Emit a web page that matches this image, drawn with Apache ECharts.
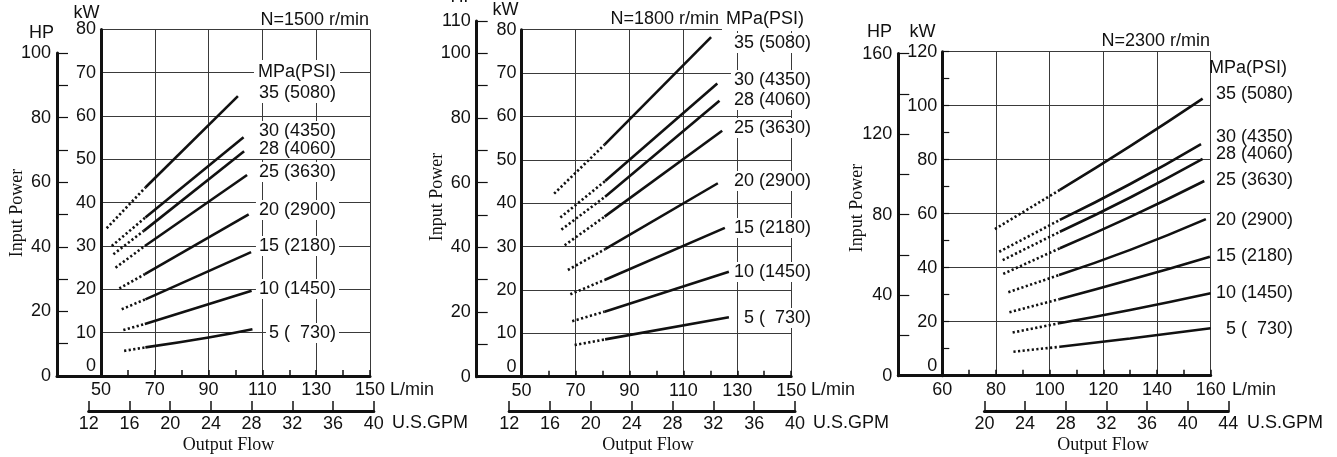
<!DOCTYPE html>
<html><head><meta charset="utf-8">
<script src="https://cdn.jsdelivr.net/npm/echarts@6/dist/echarts.min.js"></script>
<style>html,body{margin:0;padding:0;background:#fff}#c{width:1337px;height:457px}</style>
</head><body><div id="c"></div>
<script>
// ---------------- DATA ----------------
const pressureLabels = ['35 (5080)','30 (4350)','28 (4060)','25 (3630)','20 (2900)','15 (2180)','10 (1450)','5 (  730)'];
const speedTitles = ['N=1500 r/min','N=1800 r/min','N=2300 r/min'];

// [L/min, kW] — dotted (extrapolated) part and solid part, order 35,30,28,25,20,15,10,5 MPa
const n1500Dotted = [
  [[52.1,34.1],[66.5,43.5]], [[54.0,30.0],[66.5,36.6]], [[54.6,28.1],[65.9,33.5]], [[55.4,25.0],[66.3,30.0]],
  [[56.8,20.2],[66.3,23.5]], [[57.7,15.4],[66.5,17.7]], [[58.3,10.6],[66.3,12.0]], [[58.6,5.8],[66.5,6.6]]
];
const n1500Solid = [
  [[66.5,43.5],[100.9,64.6]], [[66.5,36.6],[103.0,55.1]], [[65.9,33.5],[103.2,51.9]], [[66.3,30.0],[104.3,46.4]],
  [[66.3,23.5],[104.9,37.3]], [[66.5,17.7],[105.8,28.6]], [[66.3,12.0],[106.0,19.7]], [[66.5,6.6],[90.0,8.9],[106.3,10.8]]
];
const n1800Dotted = [
  [[62.1,42.2],[80.8,53.5]], [[64.4,36.7],[81.0,45.1]], [[64.8,33.9],[81.0,41.5]], [[66.0,30.3],[80.8,36.9]],
  [[67.2,24.6],[81.0,29.4]], [[68.1,19.0],[80.8,22.3]], [[68.8,12.8],[80.8,15.0]], [[69.7,7.3],[81.0,8.6]]
];
const n1800Solid = [
  [[80.8,53.5],[120.3,78.3]], [[81.0,45.1],[122.6,67.6]], [[81.0,41.5],[123.4,63.6]], [[80.8,36.9],[124.4,56.7]],
  [[81.0,29.4],[122.8,44.6]], [[80.8,22.3],[125.4,34.3]], [[80.8,15.0],[126.9,24.2]], [[81.0,8.6],[126.9,13.7]]
];
const n2300Dotted = [
  [[79.6,54.3],[103.8,68.8]], [[81.2,45.9],[103.8,57.7]], [[82.5,42.8],[103.8,53.3]], [[82.7,37.7],[103.8,47.2]],
  [[84.6,30.9],[103.5,37.3]], [[85.0,23.5],[103.8,28.4]], [[86.2,16.0],[103.5,19.4]], [[86.5,8.9],[103.8,10.7]]
];
const n2300Solid = [
  [[103.8,68.8],[130.0,85.0],[157.0,102.6]],
  [[103.8,57.7],[130.0,71.0],[156.4,85.8]],
  [[103.8,53.3],[130.0,66.0],[157.0,80.3]],
  [[103.8,47.2],[130.0,58.8],[157.6,72.1]],
  [[103.5,37.3],[130.0,46.6],[158.2,58.0]],
  [[103.8,28.4],[130.0,35.5],[159.7,44.1]],
  [[103.5,19.4],[130.0,24.3],[160.0,30.5]],
  [[103.8,10.7],[130.0,13.8],[160.0,17.6]]
];

const flowRanges = [[50,150],[50,150],[60,160]];   // L/min
const gpmRanges  = [[12,40],[12,40],[20,44]];      // U.S.GPM
const kwMaxes    = [80,80,120];
const kwSteps    = [10,10,20];
const hpMaxes    = [100,110,160];
const hpSteps    = [10,10,20];
const hpLabelSteps = [20,20,40];

const KW_PER_HP = 0.7457;
const L_PER_GPM = 3.78541;

// ---------------- LAYOUT (pixels) ----------------
const layout = [
  {left:101, right:370, top:29.4, bottom:376, hpX:57, gpmY:411,
   labRight:339, labYs:[93,131,149,172,210,246,289,333], labBg:true,
   header:[340,72], title:[369,20], hp:[41.5,33], kw:[86.5,13], input:[17,213], output:[228.5,445.5],
   lmin:[390,390], gpmUnit:[392,423]},
  {left:521.5, right:791.2, top:29.7, bottom:376.7, hpX:476.7, gpmY:411,
   labRight:814, labYs:[43,80,100,128,181,228,272,318], labBg:true,
   header:[808,19], title:[719,19], hp:[463,-3], kw:[505.5,10], input:[437,197], output:[648,445],
   lmin:[811,390], gpmUnit:[813,423]},
  {left:942.3, right:1210.7, top:51.7, bottom:375.7, hpX:898.3, gpmY:411,
   labRight:1293, labYs:[94,137,154,180,220,256,293,329], labBg:false,
   header:[1287,68], title:[1210,41.5], hp:[879.5,31.7], kw:[922.5,31.7], input:[857,208], output:[1103,445],
   lmin:[1232,390], gpmUnit:[1247,423]}
];

const SANS = '"Liberation Sans", Arial, sans-serif';
const SERIF = '"Liberation Serif", "Times New Roman", serif';
const INK = '#111';
const GRIDC = '#3a3a3a';
const dottedSets = [n1500Dotted, n1800Dotted, n2300Dotted];
const solidSets = [n1500Solid, n1800Solid, n2300Solid];

const grids = [], xAxes = [], yAxes = [], series = [], graphics = [];

function txt(x, y, text, align, font, extra) {
  const st = Object.assign({text, font: font || ('18px ' + SANS), fill: INK,
    align: align || 'center', textAlign: align || 'center',
    verticalAlign: 'middle', textVerticalAlign: 'middle'}, extra || {});
  return {type:'text', x, y, z:100, silent:true, style: st};
}

for (let p = 0; p < 3; p++) {
  const L = layout[p];
  const [fmin, fmax] = flowRanges[p];
  const pxPerL = (L.right - L.left) / (fmax - fmin);
  const kwScale = (L.bottom - L.top) / kwMaxes[p];
  const hpTop = L.bottom - hpMaxes[p] * KW_PER_HP * kwScale;
  const gx0 = L.left + (gpmRanges[p][0] * L_PER_GPM - fmin) * pxPerL;
  const gx1 = L.left + (gpmRanges[p][1] * L_PER_GPM - fmin) * pxPerL;
  const gi = grids.length;

  grids.push({left:L.left, top:L.top, width:L.right - L.left, height:L.bottom - L.top, outerBoundsMode:'none', containLabel:false});
  grids.push({left:L.hpX, top:hpTop, width:L.left - L.hpX, height:L.bottom - hpTop, outerBoundsMode:'none', containLabel:false});
  grids.push({left:gx0, top:L.gpmY - 10, width:gx1 - gx0, height:10, outerBoundsMode:'none', containLabel:false});

  const labelStyle = {fontSize:18, fontFamily:SANS, color:INK};
  xAxes.push({type:'value', gridIndex:gi, min:fmin, max:fmax, interval:20,
    axisLine:{show:true, onZero:false, lineStyle:{color:INK, width:3}},
    axisTick:{show:true, inside:true, length:6, lineStyle:{color:INK, width:1.5}},
    minorTick:{show:true, splitNumber:2, length:6, lineStyle:{color:INK, width:1.5}},
    axisLabel:Object.assign({margin:5, showMinLabel:true, showMaxLabel:true}, labelStyle),
    splitLine:{show:true, lineStyle:{color:GRIDC, width:1}}});
  const kwStep = kwSteps[p];
  yAxes.push({type:'value', gridIndex:gi, min:0, max:kwMaxes[p], interval:kwStep,
    axisLine:{show:true, onZero:false, lineStyle:{color:INK, width:3}},
    axisTick:{show:p === 2, inside:true, length:7, lineStyle:{color:INK, width:1.2}},
    minorTick:{show:p === 2, splitNumber:2, length:7, lineStyle:{color:INK, width:1.2}},
    axisLabel:Object.assign({margin:5, showMinLabel:true, showMaxLabel:true,
      formatter: v => v === 0 ? '{z|0}' : String(v),
      rich:{z:{fontSize:18, fontFamily:SANS, color:INK, padding:[0,0,20,0]}}}, labelStyle),
    splitLine:{show:true, lineStyle:{color:GRIDC, width:1}}});

  xAxes.push({type:'value', gridIndex:gi + 1, min:0, max:1,
    axisLine:{show:true, onZero:false, lineStyle:{color:INK, width:3}},
    axisTick:{show:false}, axisLabel:{show:false}, splitLine:{show:false}});
  const hpMax = hpMaxes[p], hpLab = hpLabelSteps[p];
  yAxes.push({type:'value', gridIndex:gi + 1, min:0, max:hpMax, interval:hpSteps[p],
    axisLine:{show:true, onZero:false, lineStyle:{color:INK, width:3}},
    axisTick:{show:true, inside:true, length:11, lineStyle:{color:INK, width:1.2}},
    axisLabel:Object.assign({margin:6, showMinLabel:true, showMaxLabel:true,
      formatter: v => (v % hpLab === 0 || v === hpMax) ? String(v) : ''}, labelStyle),
    splitLine:{show:false}});

  xAxes.push({type:'value', gridIndex:gi + 2, min:gpmRanges[p][0], max:gpmRanges[p][1], interval:4,
    axisLine:{show:true, onZero:false, lineStyle:{color:INK, width:3}},
    axisTick:{show:true, inside:true, length:10, lineStyle:{color:INK, width:1.5}},
    axisLabel:Object.assign({margin:4, showMinLabel:true, showMaxLabel:true}, labelStyle),
    splitLine:{show:false}});
  yAxes.push({type:'value', gridIndex:gi + 2, show:false, min:0, max:1});

  const axIdx = gi;
  for (let i = 0; i < pressureLabels.length; i++) {
    series.push({type:'line', name:pressureLabels[i] + ' dotted ' + p, xAxisIndex:axIdx, yAxisIndex:axIdx,
      data:dottedSets[p][i], showSymbol:false, symbol:'none', silent:true, z:5,
      lineStyle:{color:INK, width:2.6, type:[2.2,2.4], cap:'butt'}});
    series.push({type:'line', name:pressureLabels[i] + ' ' + p, xAxisIndex:axIdx, yAxisIndex:axIdx,
      data:solidSets[p][i], showSymbol:false, symbol:'none', silent:true, z:5,
      smooth: solidSets[p][i].length > 2 ? 0.5 : false,
      lineStyle:{color:INK, width:2.6, type:'solid'}});
  }

  const bg = L.labBg ? {backgroundColor:'#fff', padding:[1,3,1,3]} : {};
  for (let i = 0; i < pressureLabels.length; i++) {
    graphics.push(txt(L.labRight, L.labYs[i], pressureLabels[i], 'right', null, bg));
  }
  graphics.push(txt(L.header[0], L.header[1], 'MPa(PSI)', 'right', null,
    L.labBg ? {backgroundColor:'#fff', padding:[2,4,4,4]} : {}));
  graphics.push(txt(L.title[0], L.title[1], speedTitles[p], 'right'));
  graphics.push(txt(L.hp[0], L.hp[1], 'HP', 'center'));
  graphics.push(txt(L.kw[0], L.kw[1], 'kW', 'center'));
  graphics.push(Object.assign(txt(L.input[0], L.input[1], 'Input Power', 'center', '18px ' + SERIF), {rotation: Math.PI / 2}));
  graphics.push(txt(L.output[0], L.output[1], 'Output Flow', 'center', '18px ' + SERIF));
  graphics.push(txt(L.lmin[0], L.lmin[1], 'L/min', 'left'));
  graphics.push(txt(L.gpmUnit[0], L.gpmUnit[1], 'U.S.GPM', 'left'));
}

const chart = echarts.init(document.getElementById('c'), null, {renderer:'canvas'});
chart.setOption({
  animation:false,
  backgroundColor:'#fff',
  grid:grids, xAxis:xAxes, yAxis:yAxes, series:series,
  graphic:{elements:graphics}
});
</script></body></html>
